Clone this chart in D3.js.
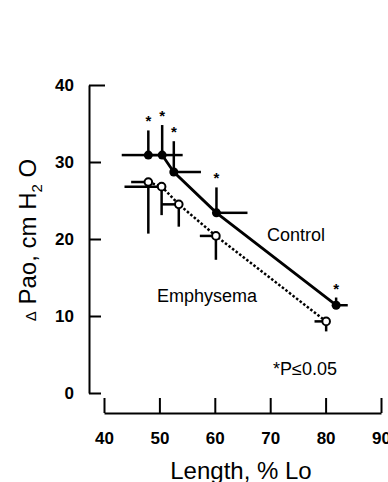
<!DOCTYPE html>
<html>
<head>
<meta charset="utf-8">
<script src="https://cdn.jsdelivr.net/npm/d3@7"></script>
<style>
  body { margin: 0; background: #fff; }
  svg { font-family: "Liberation Sans", Arial, Helvetica, sans-serif; }
</style>
</head>
<body>
<div id="chart"></div>
<script>
// x values (% Lo) and y values (cm H2O)
const lengthControl = [48.0, 50.5, 52.6, 60.3, 81.9];
const paoControl = [30.9, 30.9, 28.7, 23.4, 11.4];
const seUpControl = [3.2, 3.9, 4.0, 3.3, 1.0];
const seLeftControl = [4.8, 0, 0, 0, 0];
const seRightControl = [0, 3.7, 4.9, 5.6, 2.1];

const lengthEmph = [48.0, 50.4, 53.5, 60.2, 80.1];
const paoEmph = [27.4, 26.8, 24.5, 20.4, 9.3];
const seDownEmph = [6.7, 3.7, 2.9, 3.1, 1.3];
const seLeftEmph = [3.1, 6.7, 3.1, 2.9, 2.1];

const xTicks = [40, 50, 60, 70, 80, 90];
const yTicks = [0, 10, 20, 30, 40];

const width = 388;
const height = 482;

const svg = d3
  .select("#chart")
  .append("svg")
  .attr("width", width)
  .attr("height", height);

const x = d3.scaleLinear().domain([40, 90]).range([104, 381]);
const y = d3.scaleLinear().domain([0, 40]).range([393, 85]);

//axes
const yAxis = svg
  .append("g")
  .attr("transform", "translate(89,0)")
  .call(
    d3.axisLeft(y).tickValues(yTicks).tickSize(-12).tickSizeOuter(0).tickPadding(15)
  );
yAxis.selectAll(".tick line").filter((d) => d === 40).attr("x2", 16);
const xAxis = svg
  .append("g")
  .attr("transform", "translate(0,413)")
  .call(
    d3.axisBottom(x).tickValues(xTicks).tickSize(-15).tickSizeOuter(0).tickPadding(19)
  );
[yAxis, xAxis].forEach((g) => {
  g.selectAll("path, line").attr("stroke", "#000").attr("stroke-width", 2);
  g.selectAll("text")
    .attr("font-size", 17)
    .attr("font-weight", "bold")
    .attr("font-family", "Liberation Sans, Arial, sans-serif")
    .attr("fill", "#000");
});

//axis titles
svg
  .append("text")
  .attr("x", 241)
  .attr("y", 479)
  .attr("text-anchor", "middle")
  .attr("font-size", 24)
  .text("Length, % Lo");

const yTitle = svg
  .append("text")
  .attr("transform", "translate(36,240) rotate(-90)")
  .attr("text-anchor", "middle")
  .attr("font-size", 24);
yTitle.append("tspan").attr("font-size", 15).text("\u0394");
yTitle.append("tspan").text(" Pao, cm H");
yTitle.append("tspan").attr("font-size", 15).attr("dy", 6).text("2");
yTitle.append("tspan").attr("dy", -6).text(" O");

const control = lengthControl.map((v, i) => ({
  x: v,
  y: paoControl[i],
  up: seUpControl[i],
  left: seLeftControl[i],
  right: seRightControl[i],
}));
const emph = lengthEmph.map((v, i) => ({
  x: v,
  y: paoEmph[i],
  down: seDownEmph[i],
  left: seLeftEmph[i],
}));

const line = d3
  .line()
  .x((d) => x(d.x))
  .y((d) => y(d.y));

//error bars
const bars = svg.append("g").attr("stroke", "#000").attr("stroke-width", 2.5);
control.forEach((d) => {
  bars.append("line").attr("x1", x(d.x)).attr("x2", x(d.x)).attr("y1", y(d.y)).attr("y2", y(d.y + d.up));
  if (d.left) bars.append("line").attr("x1", x(d.x)).attr("x2", x(d.x - d.left)).attr("y1", y(d.y)).attr("y2", y(d.y));
  if (d.right) bars.append("line").attr("x1", x(d.x)).attr("x2", x(d.x + d.right)).attr("y1", y(d.y)).attr("y2", y(d.y));
});
emph.forEach((d) => {
  bars.append("line").attr("x1", x(d.x)).attr("x2", x(d.x)).attr("y1", y(d.y)).attr("y2", y(d.y - d.down));
  bars.append("line").attr("x1", x(d.x)).attr("x2", x(d.x - d.left)).attr("y1", y(d.y)).attr("y2", y(d.y));
});

//lines
svg
  .append("path")
  .datum(control)
  .attr("d", line)
  .attr("fill", "none")
  .attr("stroke", "#000")
  .attr("stroke-width", 2.8);
svg
  .append("path")
  .datum(emph)
  .attr("d", line)
  .attr("fill", "none")
  .attr("stroke", "#000")
  .attr("stroke-width", 2.5)
  .attr("stroke-dasharray", "2.5,2");

//points
svg
  .selectAll(".ctrl")
  .data(control)
  .enter()
  .append("circle")
  .attr("class", "ctrl")
  .attr("cx", (d) => x(d.x))
  .attr("cy", (d) => y(d.y))
  .attr("r", 4.5)
  .attr("fill", "#000");
svg
  .selectAll(".emph")
  .data(emph)
  .enter()
  .append("circle")
  .attr("class", "emph")
  .attr("cx", (d) => x(d.x))
  .attr("cy", (d) => y(d.y))
  .attr("r", 3.8)
  .attr("fill", "#fff")
  .attr("stroke", "#000")
  .attr("stroke-width", 2);

//significance stars
svg
  .selectAll(".star")
  .data(control)
  .enter()
  .append("text")
  .attr("class", "star")
  .attr("x", (d) => x(d.x))
  .attr("y", (d) => y(d.y + d.up) - 4)
  .attr("text-anchor", "middle")
  .attr("font-size", 15)
  .attr("font-weight", "bold")
  .text("*");

//labels
svg.append("text").attr("x", 267).attr("y", 241).attr("font-size", 18).text("Control");
svg.append("text").attr("x", 157).attr("y", 302).attr("font-size", 18).text("Emphysema");
svg.append("text").attr("x", 273).attr("y", 375).attr("font-size", 18).text("*P\u22640.05");
</script>
</body>
</html>
